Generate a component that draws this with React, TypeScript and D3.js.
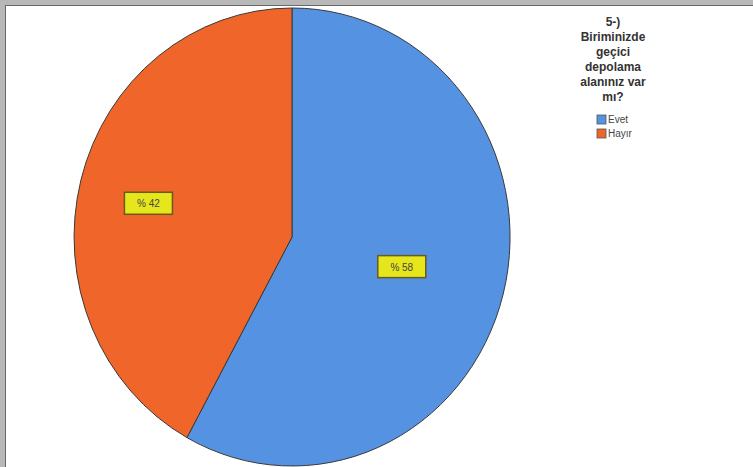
import React from "react";
import * as d3 from "d3";

const categories = ["Evet", "Hayır"];
const values = [58, 42];
const labels = ["% 58", "% 42"];
const titleLines = ["5-)", "Biriminizde", "geçici", "depolama", "alanınız var", "mı?"];

const colors = ["#5592E2", "#F0652A"];
const labelRadius = [0.52, 0.68];
const labelDy = [0, 5];

export default function App() {
  const W = 753, H = 467;
  const cx = 292, cy = 237, rx = 218, ry = 229;
  const pie = d3.pie<number>().sort(null).value((d) => d);
  const arcs = pie(values);
  const arc = d3.arc<d3.PieArcDatum<number>>().innerRadius(0).outerRadius(1);
  return (
    <div style={{ position: "fixed", left: 0, top: 0 }}>
      <svg width={W} height={H} style={{ display: "block", fontFamily: "Liberation Sans, Arial, sans-serif" }}>
        <rect x={0} y={0} width={W} height={H} fill="#b8b8b8" />
        <rect x={5} y={5} width={W - 5} height={H - 5} fill="#6a6a6a" />
        <rect x={6} y={6} width={W - 6} height={H - 6} fill="#ffffff" />
        <g transform={`translate(${cx},${cy}) scale(${rx},${ry})`}>
          {arcs.map((a, i) => (
            <path key={i} d={arc(a) || ""} fill={colors[i]} stroke="#3a3a3a" strokeWidth={1} vectorEffect="non-scaling-stroke" />
          ))}
        </g>
        {arcs.map((a, i) => {
          const m = (a.startAngle + a.endAngle) / 2;
          const x = cx + Math.sin(m) * rx * labelRadius[i];
          const y = cy - Math.cos(m) * ry * labelRadius[i] + labelDy[i];
          const w = 48, h = 22;
          return (
            <g key={"l" + i}>
              <rect x={x - w / 2} y={y - h / 2} width={w} height={h} fill="#E6E61C" stroke="#6b5a1a" strokeWidth={1.5} />
              <text x={x} y={y + 4} textAnchor="middle" fontSize={10} fill="#444">{labels[i]}</text>
            </g>
          );
        })}
        {titleLines.map((t, i) => (
          <text key={"t" + i} x={613} y={26 + i * 15} textAnchor="middle" fontSize={12} fontWeight="bold" fill="#333">{t}</text>
        ))}
        {categories.map((c, i) => (
          <g key={"g" + i}>
            <rect x={597} y={115 + i * 14} width={9} height={9} fill={colors[i]} stroke="#555" strokeWidth={0.8} />
            <text x={608} y={123 + i * 14} fontSize={10} fill="#444">{c}</text>
          </g>
        ))}
      </svg>
    </div>
  );
}
